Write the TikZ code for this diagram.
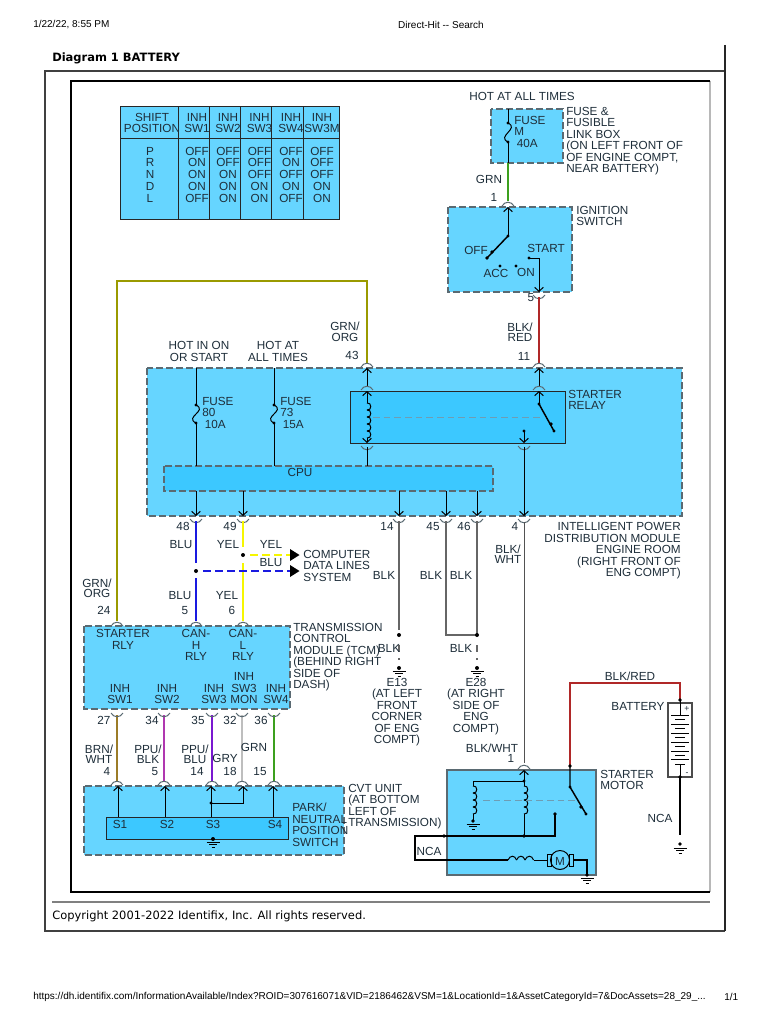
\documentclass[tikz,border=0pt]{standalone}
\usepackage{fontspec}
\setmainfont{Liberation Sans}
\newfontfamily\vfont{DejaVu Sans}
\usetikzlibrary{arrows.meta}
\definecolor{modfill}{HTML}{66D5FF}
\definecolor{relfill}{HTML}{3CC8FF}
\definecolor{dashgray}{HTML}{5A6A72}
\definecolor{inktext}{HTML}{1E2E3A}
\definecolor{wolive}{HTML}{9A9A00}
\definecolor{wgreen}{HTML}{3CA01E}
\definecolor{wred}{HTML}{B02828}
\definecolor{wblue}{HTML}{1A1AE0}
\definecolor{wyel}{HTML}{F6F600}
\definecolor{wbrn}{HTML}{9C7C28}
\definecolor{wmag}{HTML}{B038B0}
\definecolor{wppl}{HTML}{7A18D0}
\definecolor{wgry}{HTML}{BEBEBE}
\definecolor{wblk}{HTML}{666666}
\definecolor{wcouple}{HTML}{6E9DB4}
\tikzset{
  lbl/.style={inner sep=0pt,yshift=-.6pt,align=center,text=inktext,font=\fontsize{8.8}{8.6}\selectfont},
  lft/.style={lbl,align=left,anchor=west},
  rgt/.style={lbl,align=right,anchor=east},
  tight/.style={lbl,font=\fontsize{8.8}{7.6}\selectfont},
  small/.style={inner sep=0pt,font=\fontsize{7.5}{9}\selectfont},
  modbox/.style={draw=dashgray,fill=modfill,line width=1pt,dash pattern=on 5.5pt off 2pt},
  subbox/.style={modbox,fill=relfill},
  solidbox/.style={draw=black!85,line width=.7pt},
  wire/.style={line width=.75pt},
  cable/.style={line width=1.5pt},
  couple/.style={line width=.75pt,wcouple,dash pattern=on 5pt off 3pt}
}
% pins, x and y in pixels of the sheet
\newcommand{\pinA}[2]{\draw[wire,dashgray] ({#1-6},{#2+2}) .. controls ({#1-3},{#2-3}) and ({#1+3},{#2-3}) .. ({#1+6},{#2+2});}
\newcommand{\pinB}[2]{\draw[wire,dashgray] ({#1-6},{#2-3}) .. controls ({#1-3},{#2+2}) and ({#1+3},{#2+2}) .. ({#1+6},{#2-3});}
\newcommand{\gnd}[2]{
  \draw[wire] ({#1-6.5},#2) -- ({#1+6.5},#2);
  \draw[wire] ({#1-4},{#2+2.8}) -- ({#1+4},{#2+2.8});
  \draw[wire] ({#1-1.5},{#2+5.6}) -- ({#1+1.5},{#2+5.6});
}
\newcommand{\fuse}[3]{
  \fill (#1,#2) circle[radius=1.6] (#1,#3) circle[radius=1.6];
  \draw[wire] (#1,#2) .. controls ({#1+6},{#2+3}) and ({#1+3},{#2+6}) .. (#1,{(#2+#3)/2})
    .. controls ({#1-3},{#3-6}) and ({#1-6},{#3-3}) .. (#1,#3);
}
\newcommand{\coilV}[3]{
  \foreach \i in {1,...,#3} {
    \draw[wire] (#1,{#2+(\i-1)*7}) .. controls ({#1+5},{#2+(\i-1)*7-1}) and ({#1+5},{#2+\i*7+1}) .. (#1,{#2+\i*7});
  }
}
\begin{document}
\begin{tikzpicture}[x=0.75pt,y=-0.75pt,>={Straight Barb[length=3pt,width=6.5pt]}]
\useasboundingbox (0,0) rectangle (768,1024);
\fill[white] (0,0) rectangle (768,1024);

% sheet
\node[small,anchor=west] (stamp) at (33,25) {1/22/22, 8:55 PM};
\node[small] (title) at (441,25) {Direct-Hit -{}- Search};
\node[small,anchor=west] (url) at (33,997) {https://dh.identifix.com/InformationAvailable/Index?ROID=307616071\&VID=2186462\&VSM=1\&LocationId=1\&AssetCategoryId=7\&DocAssets=28\_29\_...};
\node[small,anchor=west] (pageno) at (724,997) {1/1};
\node[inner sep=0pt,anchor=west,font=\vfont\bfseries\fontsize{8.6}{10}\selectfont] (diagname) at (52,58.5) {Diagram 1 BATTERY};
\node[inner sep=0pt,anchor=west,font=\vfont\fontsize{8.6}{10}\selectfont] (copyright) at (52,916.5) {Copyright 2001-2022 Identifix, Inc. All rights reserved.};
\draw[line width=.8pt,black!75] (725,71) -- (45,71) -- (45,931) -- (725,931);
\draw[line width=.9pt,black!85] (725,45) -- (725,931);
\draw[line width=1.2pt,black!50] (52,902) -- (710,902);
\draw[line width=.9pt,black!28] (710,81) -- (710,892);
\draw[line width=1.2pt,black] (710,81) -- (71,81) -- (71,892) -- (710,892);

% shift table
\draw[solidbox,fill=modfill] (120,106) rectangle (339,219);
\draw[solidbox] (120,138) -- (339,138);
\foreach \x in {178,209,240,271,303} {
  \draw[solidbox] (\x,106) -- (\x,219);
}
\node[lbl] (shifthead) at (152,122) {SHIFT\\POSITION};
\node[lbl,font=\fontsize{8.8}{8.9}\selectfont] (shiftvals) at (150,174) {P\\R\\N\\D\\L};
\foreach \nm/\x/\head/\vals in {
  swa/197/SW1/{OFF\\ON\\ON\\ON\\OFF},
  swb/228/SW2/{OFF\\OFF\\ON\\ON\\ON},
  swc/259.5/SW3/{OFF\\OFF\\OFF\\ON\\ON},
  swd/291/SW4/{OFF\\ON\\OFF\\ON\\OFF},
  swe/322/SW3M/{OFF\\OFF\\OFF\\ON\\ON}} {
  \node[lbl] (\nm h) at (\x,122) {INH\\\head};
  \node[lbl,font=\fontsize{8.8}{8.9}\selectfont] (\nm v) at (\x,174) {\vals};
}

% modules
\draw[modbox] (491,109) rectangle (563,163);
\draw[modbox] (448,207) rectangle (572,292);
\draw[modbox] (147,368) rectangle (682,516);
\draw[solidbox,fill=relfill] (350,391) rectangle (565,443);
\draw[subbox] (164,466) rectangle (493,491);
\draw[modbox] (84,626) rectangle (290,709);
\draw[modbox] (84,786) rectangle (344,855);
\draw[solidbox,fill=relfill] (106,817) rectangle (288,839);
\draw[draw=dashgray,fill=modfill,line width=.9pt] (447,770) rectangle (596,875);

\foreach \nm/\x/\y in {
  fusein/508/109, fuseout/508/163, ignin/508/207, ignpiv/508/236, ignarm/487/258,
  ignstart/529/258, ignout/539/292, relfeed/539/368, relpiv/539/404, relarm/554/431,
  relfix/524/431, relout/524/443, modfour/524/516, motin/524/770, motnode/524/781,
  coilfoot/524/836, cablenode/444/836, cableloop/415/836, fieldin/415/860, fieldout/508/860,
  fieldend/534/860, armin/547/860, armout/574/860, motgnd/587/875,
  fixtop/555/814, battin/570/766, switchtop/570/787, switcharm/586/814,
  battplus/680/700, battminus/680/777, battfoot/680/835,
  fusea/196/368, fuseb/274/368,
  coiltop/367/391, coilbot/367/443, cputop/367/466, modtop/367/368,
  blktop/399/521, blkmid/446/521, blkright/477/521, blkjoin/477/635, blkleft/446/635} {
  \coordinate (\nm) at (\x,\y);
}

% ignition feed
\draw[wire] (fusein) -- (508,122);
\fuse{508}{123}{142}
\draw[wire] (508,143) -- (fuseout);
\draw[cable,wgreen] (fuseout) -- (508,201);
\pinA{508}{204}
\draw[wire,->] (ignpiv) -- (ignin);
\draw[wire,line width=1.1pt] (ignpiv) -- (ignarm);
\fill (ignpiv) circle[radius=1.6] (ignarm) circle[radius=1.8] (492,252) circle[radius=1.8] (500,266) circle[radius=1.6] (516,266) circle[radius=1.6] (ignstart) circle[radius=1.6];
\draw[wire,->] (ignstart) -| (ignout);
\pinB{539}{298}
\draw[cable,wred] (539,297) -- (539,363);
\pinA{539}{365}

% olive wire to the tcm
\draw[cable,wolive] (117,621) -- (117,281) -- (367,281) -- (367,363);
\pinA{367}{365}
\pinA{117}{624}

% inside the module
\draw[wire,->] (367,386) -- (modtop);
\pinA{367}{388}
\draw[wire,->] (367,403) -- (coiltop);
\coilV{367}{403}{5}
\draw[wire,->] (367,438) -- (coilbot);
\pinB{367}{449}
\draw[wire] (367,447) -- (cputop);
\draw[wire,->] (539,386) -- (relfeed);
\pinA{539}{388}
\draw[wire,->] (relpiv) -- (539,391);
\draw[wire,line width=1.1pt] (relpiv) -- (relarm);
\fill (relpiv) circle[radius=1.6] (relarm) circle[radius=1.6] (551,424) circle[radius=1.8] (524,431) circle[radius=1.6];
\draw[wire,->] (relfix) -- (relout);
\pinB{524}{449}
\draw[wire,->] (524,447) -- (modfour);
\draw[couple] (373,417) -- (540,417);
\foreach \a/\b in {fusea/196,fuseb/274} {
  \draw[wire] (\a) -- (\b,405);
  \fuse{\b}{405}{423}
  \draw[wire] (\b,423) -- (\b,466);
}
\foreach \x in {196,243,399,446,477} {
  \draw[wire,->] (\x,491) -- (\x,516);
}
\foreach \x in {196,243,399,446,477,524} {
  \pinB{\x}{522}
}

% data lines
\draw[cable,wblue] (196,521) -- (196,563);
\draw[cable,wblue] (196,578) -- (196,621);
\draw[cable,wyel] (243,521) -- (243,547);
\draw[cable,wyel] (243,563) -- (243,621);
\draw[cable,wyel,dash pattern=on 6pt off 3pt] (250,555) -- (290,555);
\draw[cable,wblue,dash pattern=on 6pt off 3pt] (203,571) -- (290,571);
\fill (196,571) circle[radius=2] (243,555) circle[radius=2];
\fill (290,549) -- (299.5,555) -- (290,561) -- cycle;
\fill (290,565) -- (299.5,571) -- (290,577) -- cycle;
\pinA{196}{624}
\pinA{243}{624}

% black wires and grounds
\draw[cable,wblk] (blktop) -- (399,630);
\draw[cable,wblk] (blkmid) -- (blkleft) -- (blkjoin);
\draw[cable,wblk] (blkright) -- (blkjoin);
\foreach \x in {399,477} {
  \fill (\x,635) circle[radius=2] (\x,668) circle[radius=2];
  \draw[cable,wblk] (\x,645) -- (\x,652);
  \draw[cable,wblk] (\x,658) -- (\x,660);
  \gnd{\x}{671}
}

% tcm to cvt unit
\foreach \x/\col in {117/wbrn,164/wmag,212/wppl,242/wgry,274/wgreen} {
  \draw[cable,\col] (\x,715) -- (\x,781);
  \pinB{\x}{716}
  \pinA{\x}{783}
}
\foreach \x in {118,165,211,273} {
  \draw[wire,->] (\x,817) -- (\x,786);
}
\draw[wire,->] (211,803) -| (243,786);
\fill (211,803) circle[radius=1.6] (213,839) circle[radius=2];
\gnd{213}{842}

% starter motor
\draw[wire,wblk!80!black] (524,522) -- (524,763);
\pinA{524}{767}
\draw[wire,->] (motnode) -- (motin);
\draw[wire] (473,781) -- (motnode);
\draw[wire] (motnode) -- (524,786);
\coilV{524}{786}{4}
\draw[wire] (524,814) -- (coilfoot);
\draw[wire] (473,781) -- (473,786);
\coilV{473}{786}{4}
\draw[wire] (473,814) -- (473,821);
\fill (motnode) circle[radius=1.6] (coilfoot) circle[radius=1.8] (473,821) circle[radius=1.8];
\gnd{473}{824}
\draw[wire,line width=1pt] (cablenode) -- (coilfoot) -- (555,836) -- (fixtop);
\fill (cablenode) circle[radius=1.8] (fixtop) circle[radius=1.8];
\draw[couple] (483,800) -- (575,800);
\draw[cable,wred] (battin) -- (570,683) -- (680,683) -- (battplus);
\draw[wire,line width=1.1pt] (battin) -- (switchtop) -- (switcharm);
\fill (battin) circle[radius=1.8] (switchtop) circle[radius=1.6] (switcharm) circle[radius=1.6] (581,807) circle[radius=1.8];
\draw[line width=1.2pt] (cablenode) -- (cableloop) -- (fieldin) -- (447,860);
\draw[wire,line width=.9pt] (447,860) -- (fieldout);
\foreach \i in {0,1,2} {
  \draw[wire] ({508+\i*8.5},860) .. controls ({510+\i*8.5},855) and ({515+\i*8.5},855) .. ({516.5+\i*8.5},860);
}
\draw[wire] (fieldend) -- (armin);
\draw[wire] (547,854) rectangle (551,866) (569,854) rectangle (573,866);
\draw[wire] (560,860) circle[radius=9.5];
\node[lbl] (motlbl) at (560,860.5) {M};
\draw[wire,line width=.9pt] (armout) -- (587,860) -- (motgnd);
\fill (motgnd) circle[radius=1.8];
\gnd{587}{878}

% battery
\draw[line width=.8pt,black!70] (668,703) rectangle (692,777);
\draw[wire] (battplus) -- (680,715);
\foreach \y/\w in {715/9,719/5,724/9,728/5,733/9,737/5,742/9,746/5,751/9,755/5,759/9,764/5} {
  \draw[wire] ({680-\w},\y) -- ({680+\w},\y);
}
\draw[wire] (680,764) -- (battminus);
\node[lbl,font=\fontsize{6.5}{7}\selectfont] (plussign) at (687,708) {+};
\node[lbl,font=\fontsize{6.5}{7}\selectfont] (minussign) at (687,773) {-};
\draw[line width=1.1pt] (battminus) -- (battfoot);
\fill (battplus) circle[radius=1.8] (battminus) circle[radius=1.8] (680,844) circle[radius=1.8];
\gnd{680}{848}

% labels
\foreach \nm/\x/\y/\txt in {
  hotall/522/96/{HOT AT ALL TIMES}, grna/489/179/GRN, pina/494/197/1,
  offl/476/250/OFF, startl/546/248/START, accl/496/273/ACC, onl/526/272/ON,
  pinb/531/297/5, pinc/524/356/11, hotin/199/350.5/{HOT IN ON\\OR START},
  hotat/278/350.5/{HOT AT\\ALL TIMES}, pind/352/355/43, cpul/300/472/CPU,
  pine/183/526/48, pinf/230/526/49, ping/387/526/14, pinh/433/526/45, pini/464/526/46, pinj/515/526/4,
  blua/181/544/BLU, yela/228/544/YEL, yelb/271/544/YEL, blub/271/562/BLU, bluc/180/595/BLU, yelc/227/595/YEL,
  pink/185/610/5, pinl/232/610/6, pinm/104/610/24,
  blklbla/384/575/BLK, blklblb/431/575/BLK, blklblc/461/575/BLK, blklbld/461/648/BLK, blklble/389/648/BLK,
  strly/123/638.5/{STARTER\\RLY}, canh/196/644.5/{CAN-\\H\\RLY}, canl/243/644.5/{CAN-\\L\\RLY},
  inha/120/693/{INH\\SW1}, inhb/167/693/{INH\\SW2}, inhc/214/693/{INH\\SW3}, inhd/244/687.5/{INH\\SW3\\MON}, inhe/276/693/{INH\\SW4},
  pinn/104/720/27, pino/152/720/34, pinp/198/720/35, pinq/230/720/32, pinr/261/720/36,
  gryl/225/758/GRY, grnb/254/747/GRN, pins/107/771/4, pint/155/771/5, pinu/197/771/14, pinv/230/771/18, pinw/260/771/15,
  sa/120/824/S1, sb/167/824/S2, sc/213/824/S3, sd/275/824/S4, ncaa/429/851/NCA,
  ecorner/397/711.5/{E13\\(AT LEFT\\FRONT\\CORNER\\OF ENG\\COMPT)},
  eside/476/705.5/{E28\\(AT RIGHT\\SIDE OF\\ENG\\COMPT)},
  blkwht/492/747/{BLK/WHT}, pinx/511/758/1, blkred/630/675/{BLK/RED}, batt/638/706/BATTERY, ncab/660/818/NCA} {
  \node[lbl] (\nm) at (\x,\y) {\txt};
}
\foreach \nm/\x/\y/\txt in {
  blkreda/520/331.5/{BLK/\\RED}, grnorga/345/331/{GRN/\\ORG}, blkwhta/508/553.5/{BLK/\\WHT},
  grnorgb/97/587.5/{GRN/\\ORG}, brnwht/99/753.5/{BRN/\\WHT}, ppublk/148/753.5/{PPU/\\BLK}, ppublu/195/753.5/{PPU/\\BLU}} {
  \node[tight] (\nm) at (\x,\y) {\txt};
}
\foreach \nm/\x/\y/\txt in {
  fusem/514/131/{FUSE\\M\\\hspace{2pt}40A}, fuselbl/566/140.5/{FUSE \&\\FUSIBLE\\LINK BOX\\(ON LEFT FRONT OF\\OF ENGINE COMPT,\\NEAR BATTERY)},
  ignsw/576/215/{IGNITION\\SWITCH}, fuseeighty/202/412/{FUSE\\80\\\hspace{2pt}10A}, fuseseventy/280/412/{FUSE\\73\\\hspace{2pt}15A},
  strel/568/399/{STARTER\\RELAY}, comp/303/565/{COMPUTER\\DATA LINES\\SYSTEM},
  tcm/293/656.5/{TRANSMISSION\\CONTROL\\MODULE (TCM)\\(BEHIND RIGHT\\SIDE OF\\DASH)},
  park/292/824/{PARK/\\NEUTRAL\\POSITION\\SWITCH}, cvt/348/806/{CVT UNIT\\(AT BOTTOM\\LEFT OF\\TRANSMISSION)},
  stmot/600/779/{STARTER\\MOTOR}} {
  \node[lft] (\nm) at (\x,\y) {\txt};
}
\node[rgt] (ipdm) at (681,550) {INTELLIGENT POWER\\DISTRIBUTION MODULE\\ENGINE ROOM\\(RIGHT FRONT OF\\ENG COMPT)};
\end{tikzpicture}
\end{document}
